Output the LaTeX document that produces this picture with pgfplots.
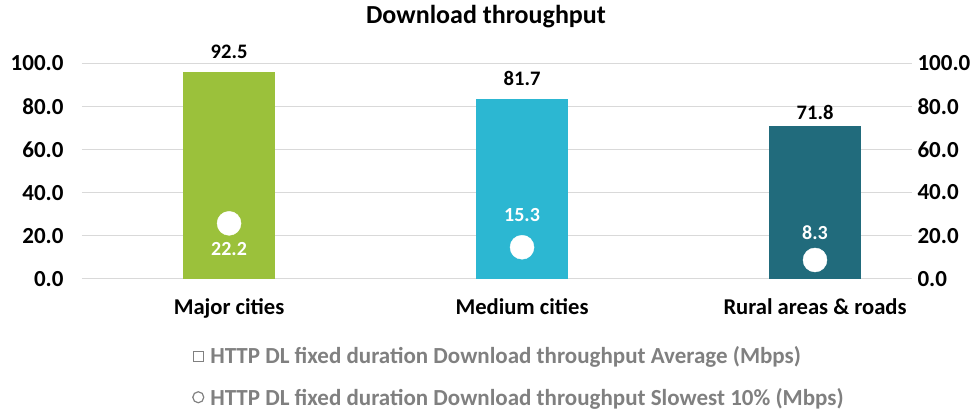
\documentclass[border=0pt]{standalone}
\usepackage{pgfplots}
\pgfplotsset{compat=1.18}
\usepackage{fontspec}
\setmainfont{Carlito}
\definecolor{cgreen}{RGB}{155,193,59}
\definecolor{ccyan}{RGB}{44,183,210}
\definecolor{cteal}{RGB}{33,107,124}
\definecolor{gridgray}{RGB}{217,217,217}
\definecolor{leggray}{RGB}{128,128,128}

\begin{document}
\begin{tikzpicture}[x=1pt,y=1pt]
\useasboundingbox (-82,-130.3) rectangle (890,278.7);
\pgfplotsset{
  base/.style={
    scale only axis, width=830pt, height=215.4pt,
    xmin=-0.502, xmax=2.331, ymin=0, ymax=100,
    ytick={0,20,...,100},
    axis line style={draw=none},
    major tick style={draw=none},
    yticklabel={\pgfmathprintnumber[fixed,fixed zerofill,precision=1,assume math mode=true]{\tick}},
    ticklabel style={font=\bfseries\fontsize{23}{27}\selectfont},
  }
}
\begin{axis}[base,
  title={Download throughput},
  title style={font=\bfseries\fontsize{26}{30}\selectfont, at={(0.4867,1)}, anchor=center, yshift=41pt},
  xtick={0,1,2},
  xticklabels={Major cities, Medium cities, Rural areas \& roads},
  xticklabel style={anchor=base, yshift=-36pt, font=\bfseries\fontsize{22.6}{26}\selectfont},
  yticklabel style={xshift=-15pt},
  ymajorgrids, grid style={color=gridgray, line width=0.9pt},
  legend style={at={(0.1289,0)}, anchor=north west, yshift=-64pt, draw=none, fill=none,
    font=\bfseries\fontsize{23}{26}\selectfont, text=leggray, row sep=18.5pt,
    cells={anchor=west}},
  every node near coord/.append style={anchor=center},
]
% average (bars)
\addplot[forget plot, ybar, bar width=92pt, bar shift=0pt, fill=cgreen, draw=none,
  nodes near coords, point meta=explicit symbolic,
  every node near coord/.append style={text=black, yshift=20.5pt, font=\bfseries\fontsize{20.6}{24}\selectfont}]
  coordinates {(0,96.0) [92.5]};
\addplot[forget plot, ybar, bar width=92pt, bar shift=0pt, fill=ccyan, draw=none,
  nodes near coords, point meta=explicit symbolic,
  every node near coord/.append style={text=black, yshift=21pt, font=\bfseries\fontsize{20.6}{24}\selectfont}]
  coordinates {(1,83.4) [81.7]};
\addplot[forget plot, ybar, bar width=92pt, bar shift=0pt, fill=cteal, draw=none,
  nodes near coords, point meta=explicit symbolic,
  every node near coord/.append style={text=black, yshift=14pt, font=\bfseries\fontsize{20.6}{24}\selectfont}]
  coordinates {(2,70.9) [71.8]};
% slowest 10% (circles)
\addplot[forget plot, only marks, mark=*, mark size=12pt, mark options={fill=white, draw=white},
  nodes near coords, point meta=explicit symbolic,
  every node near coord/.append style={text=white, yshift=-26pt, font=\bfseries\fontsize{20}{24}\selectfont}]
  coordinates {(0,25.7) [22.2]};
\addplot[forget plot, only marks, mark=*, mark size=12pt, mark options={fill=white, draw=white},
  nodes near coords, point meta=explicit symbolic,
  every node near coord/.append style={text=white, yshift=32pt, font=\bfseries\fontsize{20}{24}\selectfont}]
  coordinates {(1,14.6) [15.3]};
\addplot[forget plot, only marks, mark=*, mark size=12pt, mark options={fill=white, draw=white},
  nodes near coords, point meta=explicit symbolic,
  every node near coord/.append style={text=white, yshift=27.5pt, font=\bfseries\fontsize{20}{24}\selectfont}]
  coordinates {(2,8.7) [8.3]};
\addlegendimage{legend image code/.code={\draw[leggray, line width=1.2pt] (-8pt,-5pt) rectangle (2pt,5pt); \path[draw=none] (-8pt,0pt) -- (7pt,0pt);}}
\addlegendentry{HTTP DL fixed duration Download throughput Average (Mbps)}
\addlegendimage{legend image code/.code={\draw[leggray, line width=1.2pt] (-3pt,0pt) circle (5.5pt); \path[draw=none] (-8pt,0pt) -- (7pt,0pt);}}
\addlegendentry{HTTP DL fixed duration Download throughput Slowest 10\% (Mbps)}
\end{axis}
\begin{axis}[base,
  axis x line=none,
  axis y line*=right,
  yticklabel style={anchor=west, xshift=2pt},
]
\end{axis}
\end{tikzpicture}
\end{document}
